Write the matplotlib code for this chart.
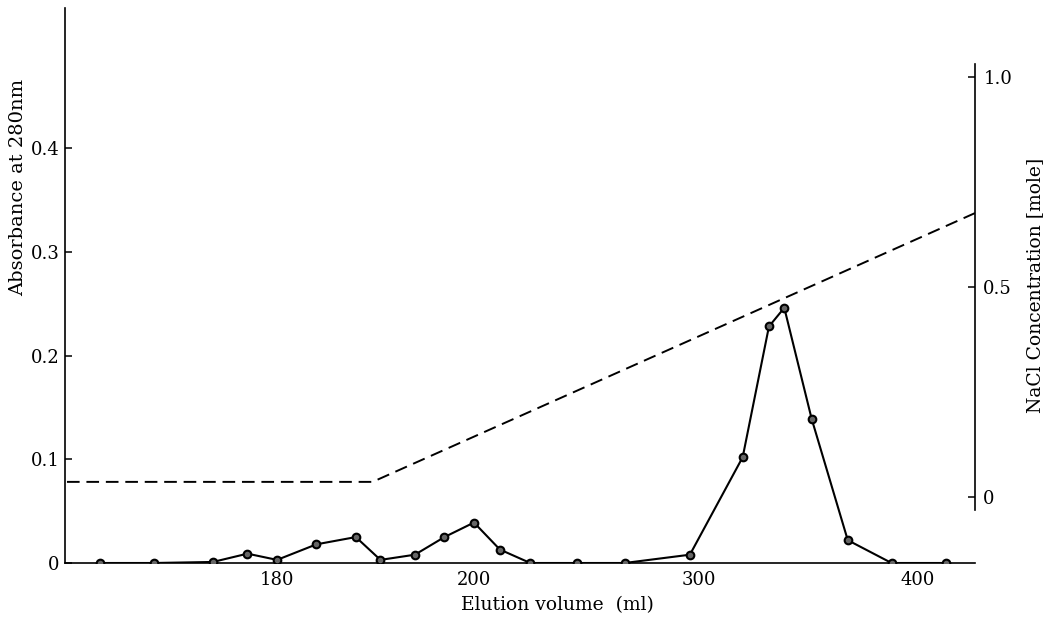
import numpy as np
import matplotlib
matplotlib.use("Agg")
import matplotlib.pyplot as plt

# elution volume (ml) and absorbance at 280 nm
volume = [162, 167.5, 173.5, 177, 180, 184, 188, 190.5, 194, 197, 200,
          211.5, 225, 246, 267, 296, 320, 332, 339, 351.5, 368, 388, 413]
absorb = [0, 0, 0.001, 0.009, 0.003, 0.018, 0.025, 0.003, 0.008, 0.025, 0.039,
          0.013, 0, 0, 0, 0.008, 0.102, 0.228, 0.246, 0.139, 0.022, 0, 0]

# NaCl gradient (dashed)
nacl_vol = [158.7, 189.7, 426]
nacl_conc = [0.036, 0.036, 0.676]

left_ticks = [0, 0.1, 0.2, 0.3, 0.4]
left_labels = ["0", "0.1", "0.2", "0.3", "0.4"]
right_ticks = [0, 0.5, 1.0]
right_labels = ["0", "0.5", "1.0"]
x_ticks = [180, 200, 300, 400]

# the volume axis of the original is not linear: piecewise scale
anchor_vol = [150, 180, 200, 300, 400, 450]
anchor_pos = [-19, 277, 474, 699, 918, 1028]


def fwd(v):
    return np.interp(v, anchor_vol, anchor_pos)


def inv(p):
    return np.interp(p, anchor_pos, anchor_vol)


plt.rcParams['font.family'] = ['DejaVu Serif']
plt.rcParams['font.size'] = 13
plt.rcParams['axes.linewidth'] = 1.2

W, H = 1047, 619
fig = plt.figure(figsize=(W / 100, H / 100), dpi=100)
ax = fig.add_axes([65 / W, (H - 563) / H, 910 / W, 555 / H])

ax.set_xscale('function', functions=(fwd, inv))
ax.set_xlim(158.5, 426)
ax.set_ylim(0, 0.535)

ax.plot(volume, absorb, color='black', lw=1.5, marker='o', ms=5.5,
        mfc='#666666', mec='black', mew=1.5, zorder=3)

ax.spines['top'].set_visible(False)
ax.spines['right'].set_visible(False)
ax.set_yticks(left_ticks)
ax.set_yticklabels(left_labels)
ax.set_xticks(x_ticks)
ax.set_xticklabels([str(t) for t in x_ticks])
ax.xaxis.set_minor_locator(matplotlib.ticker.NullLocator())
ax.tick_params(axis='y', direction='in', length=5, width=1.1, pad=4)
ax.tick_params(axis='x', length=0, pad=6)

ax2 = ax.twinx()
ax2.set_ylim(-66 / 420, 489 / 420)
ax2.plot(nacl_vol, nacl_conc, color='black', lw=1.4, dashes=(6.5, 3.5))
for s in ['top', 'left', 'bottom']:
    ax2.spines[s].set_visible(False)
ax2.spines['right'].set_bounds(-0.03, 1.03)
ax2.set_yticks(right_ticks)
ax2.set_yticklabels(right_labels)
ax2.tick_params(axis='y', direction='in', length=5, width=1.1, pad=6)

fig.text(18 / W, 1 - 187 / H, "Absorbance at 280nm", rotation=90,
         ha='center', va='center', fontsize=14)
fig.text(557 / W, 1 - 605 / H, "Elution volume  (ml)", ha='center',
         va='center', fontsize=13.5)
fig.text(1035 / W, 1 - 285 / H, "NaCl Concentration [mole]", rotation=90,
         ha='center', va='center', fontsize=13.5)

fig.savefig("out.png", dpi=100)
